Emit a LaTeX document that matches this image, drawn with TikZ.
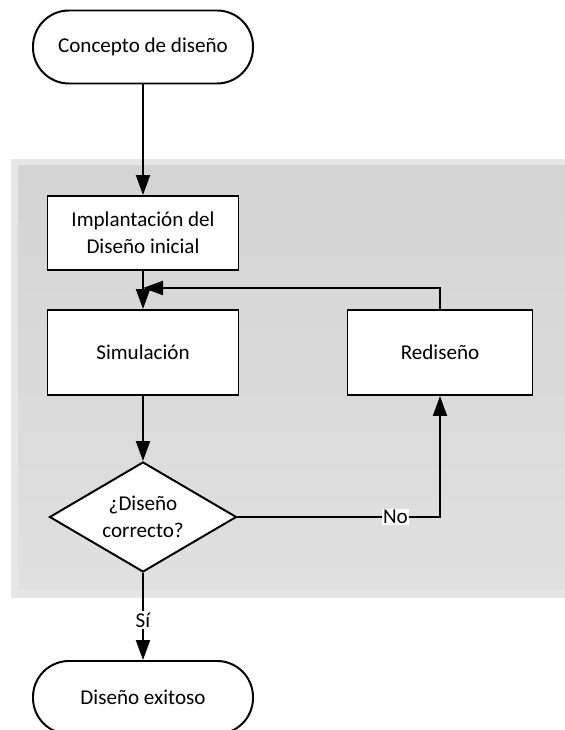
\documentclass[tikz,border=0pt]{standalone}
\usepackage{fontspec}
\setmainfont{Carlito}
\usetikzlibrary{arrows.meta,shapes.geometric}

\definecolor{marco}{RGB}{230,230,230}
\definecolor{fondoarriba}{RGB}{212,212,212}
\definecolor{fondoabajo}{RGB}{224,224,224}

\begin{document}
\begin{tikzpicture}[
        font=\fontsize{15}{19.5}\selectfont,
        line width=1.4pt,
        flecha/.style={-{Triangle[length=0.5cm,width=0.35cm]}},
        terminal/.style={draw, fill=white, rounded corners=0.9cm,
            minimum width=5.5cm, minimum height=1.825cm},
        proceso/.style={draw, fill=white, align=center, minimum width=4.775cm},
        rombo/.style={draw, fill=white, diamond, aspect=1.7, inner sep=0pt,
            align=center, minimum width=4.675cm, minimum height=2.75cm},
        etiqueta/.style={fill=white, inner sep=1pt}
    ]
        % Fix the page to the proportions of the figure
        \useasboundingbox (0,0) rectangle (14.125,18.25);

        % Grey panel behind the design loop
        \fill[marco] (0.275,3.3) rectangle (14.125,14.275);
        \shade[top color=fondoarriba, bottom color=fondoabajo] (0.45,3.5) rectangle (14.125,14.1);

        % Start and end of the flow
        \node[terminal] (concepto) at (3.575,17.075) {Concepto de diseño};
        \node[terminal] (exito) at (3.575,0.8125) {Diseño exitoso};

        % Steps of the loop
        \node[proceso, minimum height=1.85cm] (implant) at (3.575,12.425) {Implantación del\\Diseño inicial};
        \node[proceso, minimum height=2.125cm] (simul) at (3.575,9.4375) {Simulación};
        \node[proceso, minimum width=4.625cm, minimum height=2.125cm] (rediseno) at (11.0,9.4375) {Rediseño};
        \node[rombo] (decision) at (3.575,5.325) {¿Diseño\\correcto?};

        % Point where the redesign joins back in
        \coordinate (lazo) at (3.575,11.05);

        % Connectors
        \draw[flecha] (concepto) -- (implant);
        \draw[flecha] (implant) -- (simul);
        \draw[flecha] (simul) -- (decision);
        \draw[flecha] (rediseno.north) |- (lazo);
        \draw[flecha] (decision.east) -| node[etiqueta, pos=0.39] {No} (rediseno.south);
        \draw[flecha] (decision) -- node[etiqueta, pos=0.54] {Sí} (exito);

    \end{tikzpicture}
\end{document}
